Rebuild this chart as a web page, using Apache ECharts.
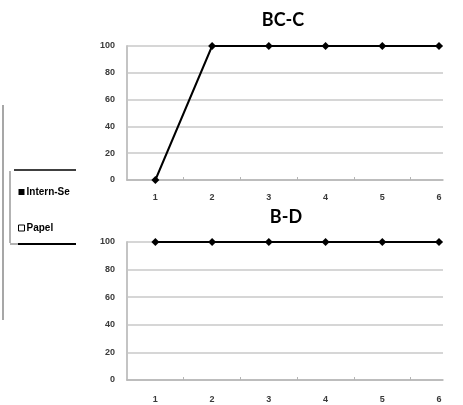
<!DOCTYPE html>
<html>
<head>
<meta charset="utf-8">
<script src="https://cdn.jsdelivr.net/npm/echarts@6/dist/echarts.min.js"></script>
<style>
  html, body { margin: 0; padding: 0; background: #fff; }
  #chart { width: 463px; height: 405px; }
</style>
</head>
<body>
<div id="chart"></div>
<script>
// Measurement points shown on both panels
const categories = [1, 2, 3, 4, 5, 6];
// Panel "BC-C"
const bccValues = [0, 100, 100, 100, 100, 100];
// Panel "B-D"
const bdValues = [100, 100, 100, 100, 100, 100];
// Value axis ticks (percent)
const yTicks = [0, 20, 40, 60, 80, 100];
// Legend entries
const legendNames = ['Intern-Se', 'Papel'];
const panelTitles = ['BC-C', 'B-D'];

const chart = echarts.init(document.getElementById('chart'), null, { renderer: 'canvas' });

const labelFont = { fontFamily: 'Liberation Sans', fontSize: 9, fontWeight: 'bold', color: '#3a3a3a' };
const gridColor = '#c9c9c9';

function xAxisFor(gridIndex, margin) {
  return {
    type: 'value', gridIndex, min: 0.5, max: 6.07,
    axisLine: { show: true, lineStyle: { color: '#b5b5b5', width: 1.5 } },
    axisTick: { show: true, customValues: categories.slice(1).map(c => c - 0.5), length: 3, inside: true,
                lineStyle: { color: '#b5b5b5' } },
    axisLabel: Object.assign({ customValues: categories, margin }, labelFont),
    splitLine: { show: false }
  };
}
function yAxisFor(gridIndex) {
  return {
    type: 'value', gridIndex, min: yTicks[0], max: yTicks[yTicks.length - 1], interval: 20,
    axisLine: { show: true, lineStyle: { color: '#c4c4c4', width: 2 } },
    axisTick: { show: false },
    axisLabel: Object.assign({ margin: 12 }, labelFont),
    splitLine: { show: true, lineStyle: { color: gridColor, width: 1.5 } }
  };
}
function pairs(values) { return categories.map((c, i) => [c, values[i]]); }

const lineSeries = (name, xi, values) => ({
  name, type: 'line', xAxisIndex: xi, yAxisIndex: xi,
  data: pairs(values),
  symbol: 'diamond', symbolSize: 8,
  lineStyle: { color: '#000', width: 2 },
  itemStyle: { color: '#000' },
  silent: true, animation: false
});

chart.setOption({
  animation: false,
  title: [
    { text: panelTitles[0], left: 278, top: 6, textAlign: 'center',
      textStyle: { fontFamily: 'Lato', fontWeight: 'bold', fontSize: 18, color: '#000' } },
    { text: panelTitles[1], left: 281, top: 203, textAlign: 'center',
      textStyle: { fontFamily: 'Lato', fontWeight: 'bold', fontSize: 18, color: '#000' } }
  ],
  grid: [
    { left: 127, right: 20, top: 46, height: 134 },
    { left: 127, right: 20, top: 242, height: 138 }
  ],
  xAxis: [xAxisFor(0, 13), xAxisFor(1, 15)],
  yAxis: [yAxisFor(0), yAxisFor(1)],
  legend: {
    orient: 'vertical', left: 13, top: 182, itemGap: 26,
    itemWidth: 6, itemHeight: 6, selectedMode: false,
    textStyle: { fontFamily: 'Liberation Sans', fontSize: 10, fontWeight: 'bold', color: '#000', padding: [0, 0, 0, -3] },
    data: [
      { name: legendNames[0], icon: 'rect', itemStyle: { color: '#000' } },
      { name: legendNames[1], icon: 'rect', itemStyle: { color: '#fff', borderColor: '#000', borderWidth: 1 } }
    ]
  },
  graphic: [
    // outer frame edge
    { type: 'line', shape: { x1: 3, y1: 105, x2: 3, y2: 320 }, style: { stroke: '#8a8a8a', lineWidth: 1.5 } },
    // legend box
    { type: 'line', shape: { x1: 10, y1: 171, x2: 10, y2: 243 }, style: { stroke: '#9a9a9a', lineWidth: 1.5 } },
    { type: 'line', shape: { x1: 14, y1: 170, x2: 76, y2: 170 }, style: { stroke: '#000', lineWidth: 1.5 } },
    { type: 'line', shape: { x1: 10, y1: 244, x2: 18, y2: 244 }, style: { stroke: '#9a9a9a', lineWidth: 1.5 } },
    { type: 'line', shape: { x1: 18, y1: 244, x2: 76, y2: 244 }, style: { stroke: '#000', lineWidth: 2 } }
  ],
  series: [
    lineSeries(legendNames[0], 0, bccValues),
    lineSeries(legendNames[0], 1, bdValues),
    { name: legendNames[1], type: 'line', data: [], xAxisIndex: 0, yAxisIndex: 0 }
  ]
});
</script>
</body>
</html>
